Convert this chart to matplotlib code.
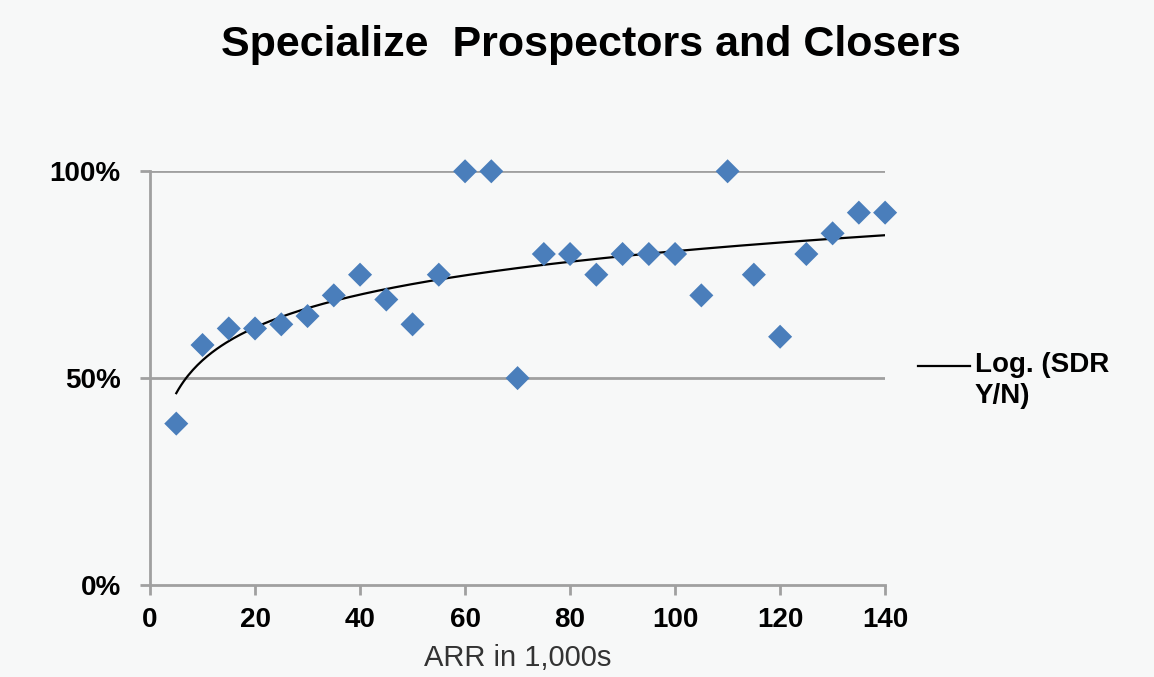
import matplotlib.pyplot as plt
from matplotlib.lines import Line2D
import numpy as np

plt.rcParams['font.family'] = ['Liberation Sans', 'DejaVu Sans']

# ARR in 1,000s and share of SDR use
arr = [5, 10, 15, 20, 25, 30, 35, 40, 45, 50, 55, 60, 65, 70,
       75, 80, 85, 90, 95, 100, 105, 110, 115, 120, 125, 130, 135, 140]
sdr_share = [0.39, 0.58, 0.62, 0.62, 0.63, 0.65, 0.70, 0.75, 0.69, 0.63, 0.75, 1.00, 1.00, 0.50,
             0.80, 0.80, 0.75, 0.80, 0.80, 0.80, 0.70, 1.00, 0.75, 0.60, 0.80, 0.85, 0.90, 0.90]
x_ticks = [0, 20, 40, 60, 80, 100, 120, 140]
y_ticks = [0, 0.5, 1.0]
y_labels = ['0%', '50%', '100%']

bg = '#f7f8f8'
blue = '#4a7ebb'
grid_gray = '#a0a0a0'

fig = plt.figure(figsize=(11.54, 6.77), dpi=100, facecolor=bg)
ax = fig.add_axes([0.130, 0.136, 0.637, 0.611], facecolor=bg)

# Excel-style logarithmic trendline fitted to the points
x = np.array(arr, dtype=float)
y = np.array(sdr_share)
a, b = np.polyfit(np.log(x), y, 1)
xs = np.linspace(x.min(), x.max(), 300)
ax.plot(xs, a * np.log(xs) + b, color='black', lw=1.6, zorder=3)

ax.scatter(arr, sdr_share, marker='D', s=150, color=blue, edgecolors='none',
           zorder=4, clip_on=False)

ax.set_xlim(0, 140)
ax.set_ylim(0, 1.0)
ax.set_xticks(x_ticks)
ax.set_yticks(y_ticks)
ax.set_yticklabels(y_labels)
for yv in y_ticks[1:]:
    ax.axhline(yv, color=grid_gray, lw=2, zorder=1)

for side in ['top', 'right']:
    ax.spines[side].set_visible(False)
for side in ['left', 'bottom']:
    ax.spines[side].set_color(grid_gray)
    ax.spines[side].set_linewidth(2)
ax.tick_params(axis='both', colors=grid_gray, width=2, length=7, direction='out',
               labelcolor='black', labelsize=20)
ax.tick_params(axis='y', pad=14)
ax.tick_params(axis='x', pad=9)
for lab in ax.get_xticklabels() + ax.get_yticklabels():
    lab.set_fontweight('bold')

ax.set_xlabel('ARR in 1,000s', fontsize=21, labelpad=8, color='#333333')
fig.text(0.512, 0.934, 'Specialize  Prospectors and Closers', fontsize=31,
         fontweight='bold', ha='center', va='center')

# trendline legend entry, Excel style (line at the first text line)
fig.add_artist(Line2D([918 / 1154, 970 / 1154], [1 - 366 / 677] * 2,
                      color='black', lw=1.6))
fig.text(975 / 1154, 1 - 352 / 677, 'Log. (SDR\nY/N)', fontsize=20,
         fontweight='bold', ha='left', va='top', linespacing=1.25)

fig.savefig('out.png', dpi=100, facecolor=bg)
